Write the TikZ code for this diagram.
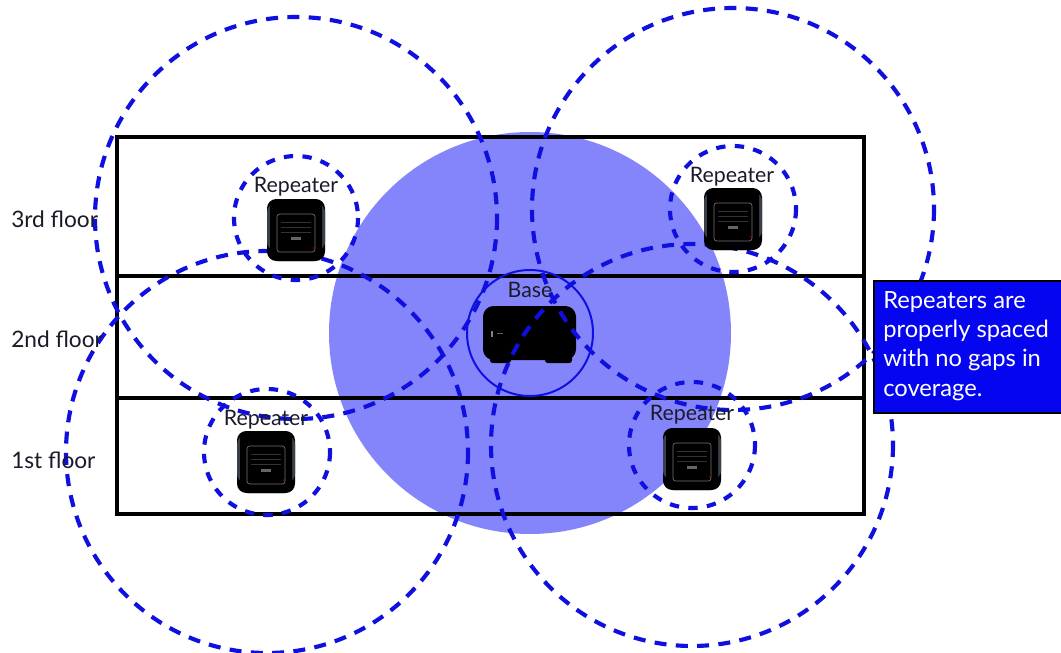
\documentclass[tikz,border=0pt]{standalone}
\usepackage{fontspec}
\setmainfont{Lato}
\definecolor{dashblue}{HTML}{0F0FE0}
\definecolor{discblue}{HTML}{8585FB}
\definecolor{boxblue}{HTML}{0505F0}
\definecolor{labelink}{HTML}{1A1A2A}
\definecolor{devedge}{HTML}{3A4048}
\tikzset{
  rangeline/.style={draw=dashblue,line width=3.1pt,dash pattern=on 9pt off 7pt},
  repline/.style={draw=dashblue,line width=3.1pt,dash pattern=on 7pt off 7pt},
  floorline/.style={draw=black,line width=2.4pt},
  lab/.style={font=\fontsize{16}{18}\selectfont,text=labelink,inner sep=0pt},
  floorlab/.style={font=\fontsize{17}{20}\selectfont,text=labelink,inner sep=0pt,anchor=west},
  pics/repeater/.style={code={
    \fill[black,rounded corners=7pt] (-29,-31) rectangle (29,31);
    \fill[devedge,rounded corners=6pt] (-29,-26) rectangle (29,20);
    \fill[black,rounded corners=6pt] (-26,-31) rectangle (26,31);
    \draw[black!55,line width=.5pt,rounded corners=2pt] (-19,-16) rectangle (19,22);
    \foreach \yy in {-8,-3,2} {\draw[black!80,line width=.25pt] (-15,\yy) -- (15,\yy);}
    \fill[black!60] (-5,7) rectangle (5,9.5);
    \fill[red!70!black] (18,18) circle (1);
  }}
}
\begin{document}
\begin{tikzpicture}[x=0.75pt,y=-0.75pt]
\useasboundingbox (0,0) rectangle (1061,653);
\fill[white] (0,0) rectangle (1061,653);
\fill[discblue] (530,333) circle [radius=201];
\draw[floorline] (117,137) rectangle (864,514);
\draw[floorline] (117,276) -- (864,276);
\draw[floorline] (117,398) -- (864,398);
% base unit
\fill[black,rounded corners=8pt] (483,306) rectangle (576,360);
\fill[black,rounded corners=2pt] (490,355) rectangle (511,363);
\fill[black,rounded corners=2pt] (545,355) rectangle (572,363);
\fill[black!50] (491,331) rectangle (493,337);
\fill[black!60!cyan] (497,333) rectangle (503,334);
\draw[draw=dashblue,line width=1.5pt] (530,333) circle [radius=63];
% repeater small circles
\draw[repline] (296,218) circle [radius=62];
\draw[repline] (733,209) circle [radius=63];
\draw[repline] (267,452) circle [radius=63];
\draw[repline] (692,445) circle [radius=63];
% repeater large circles
\draw[rangeline] (296,218) circle [radius=201];
\draw[rangeline] (733,209) circle [radius=201];
\draw[rangeline] (267,452) circle [radius=201];
\draw[rangeline] (692,445) circle [radius=201];
% devices
\pic at (296,230) {repeater};
\pic at (733,219) {repeater};
\pic at (266,462) {repeater};
\pic at (692,459) {repeater};
% labels
\node[lab] (r1) at (296,187) {Repeater};
\node[lab] (r2) at (732,177) {Repeater};
\node[lab] (r3) at (266,420) {Repeater};
\node[lab] (r4) at (692,415) {Repeater};
\node[lab] (b) at (530,290) {Base};
\node[floorlab] (f3) at (11,219) {3rd floor};
\node[floorlab] (f2) at (11,339) {2nd floor};
\node[floorlab] (f1) at (11,460) {1st floor};
\node[draw=black,line width=1.5pt,fill=boxblue,anchor=north west,minimum width=188*0.75pt,minimum height=132*0.75pt,inner sep=0pt] (note) at (873,280) {};
\node[anchor=north west,text=white,inner sep=0pt,align=left,font=\fontsize{17.8}{22}\selectfont] (notetext) at (883,291) {Repeaters are\\properly spaced\\with no gaps in\\coverage.};
\end{tikzpicture}
\end{document}
